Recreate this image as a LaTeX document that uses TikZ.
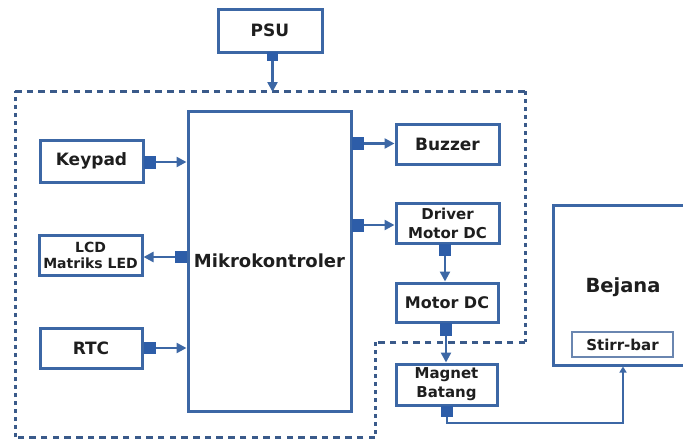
\documentclass[tikz,border=0pt]{standalone}
\usepackage{fontspec}
\setmainfont{DejaVu Sans}
\usetikzlibrary{arrows.meta,calc}
\definecolor{boxblue}{HTML}{3C67A5}
\definecolor{sqblue}{HTML}{2D5DA8}
\definecolor{dashblue}{HTML}{3A5A8A}
\definecolor{stirblue}{HTML}{6A86B0}
\definecolor{txt}{HTML}{1E1E1E}
\tikzset{
  blk/.style={draw=boxblue, line width=3pt, fill=white, text=txt, font=\bfseries, inner sep=0pt, align=center},
  sq/.style={fill=sqblue, inner sep=0pt, minimum width=12pt, minimum height=13pt},
  arr/.style={draw=boxblue, line width=2.4pt, -{Triangle[length=10pt,width=10pt]}},
  arrsmall/.style={draw=boxblue, line width=2.8pt, -{Triangle[length=6pt,width=7pt]}},
  hdash/.style={draw=dashblue, line width=3pt, dash pattern=on 6.5pt off 5.2pt},
  vdash/.style={draw=dashblue, line width=3pt, dash pattern=on 4pt off 4pt},
  fs17/.style={font=\bfseries\fontsize{17}{19}\selectfont},
  fs15/.style={font=\bfseries\fontsize{15}{19}\selectfont},
  fs14/.style={font=\bfseries\fontsize{14}{16}\selectfont},
}
\begin{document}
\begin{tikzpicture}[x=1pt,y=-1pt]
\useasboundingbox[fill=white] (0,0) rectangle (683,439);
% dashed boundary
\coordinate (d1) at (15,91);
\coordinate (d2) at (525,91);
\coordinate (d3) at (525,342);
\coordinate (d4) at (375,342);
\coordinate (d5) at (375,437);
\coordinate (d6) at (15,437);
\draw[hdash] (d1) -- (d2);
\draw[vdash] (d2) -- (d3);
\draw[hdash] (d3) -- (d4);
\draw[vdash] (d4) -- (d5);
\draw[hdash] (d5) -- (d6);
\draw[vdash] (d6) -- (d1);
% boxes
\node[blk, fs17, minimum width=104pt, minimum height=43pt] (psu) at (270,30.5) {PSU};
\node[blk, font=\bfseries\fontsize{18}{20}\selectfont, minimum width=163pt, minimum height=300pt] (mcu) at (269.5,261) {Mikrokontroler};
\node[blk, fs17, minimum width=103pt, minimum height=42pt] (keypad) at (91.5,161) {Keypad};
\node[blk, fs14, minimum width=103pt, minimum height=40pt] (lcd) at (90.5,255) {LCD\\Matriks LED};
\node[blk, fs17, minimum width=102pt, minimum height=40pt] (rtc) at (91,348) {RTC};
\node[blk, fs17, minimum width=103pt, minimum height=40pt] (buzzer) at (447.5,144) {Buzzer};
\node[blk, fs15, minimum width=103pt, minimum height=40pt] (driver) at (447.5,223) {Driver\\Motor DC};
\node[blk, font=\bfseries\fontsize{16}{18}\selectfont, minimum width=102pt, minimum height=39pt] (motor) at (447,302.5) {Motor DC};
\node[blk, fs15, minimum width=101pt, minimum height=41pt] (magnet) at (446.5,384.5) {Magnet\\Batang};
\node[blk, minimum width=142pt, minimum height=160pt] (bejana) at (624,285) {};
\node[text=txt, font=\bfseries\fontsize{19.5}{22}\selectfont] (bejanatxt) at (623,287) {Bejana};
\node[blk, draw=stirblue, line width=1.5pt, fs15, minimum width=101pt, minimum height=25pt] (stirr) at (622.5,344.5) {Stirr-bar};
% port squares
\node[sq, minimum width=11pt, minimum height=9pt] (psusq) at (272.5,56) {};
\node[sq] (keysq) at (149.5,162) {};
\node[sq, minimum height=12pt] (lcdsq) at (181,257) {};
\node[sq, minimum height=12pt] (rtcsq) at (149.5,348) {};
\node[sq] (bzsq) at (357.5,143.5) {};
\node[sq] (drsq) at (357.5,225) {};
\node[sq, minimum height=12pt] (drbsq) at (445,249.5) {};
\node[sq] (mbsq) at (446,329) {};
\node[sq, minimum height=11pt] (magsq) at (447,411) {};
% connectors
\coordinate (psuin) at (272.5,92);
\draw[arr] (psusq.south) -- (psuin);
\draw[arr] (keysq.east) -- (keysq.east -| mcu.west);
\draw[arr] (lcdsq.west) -- (lcdsq.west -| lcd.east);
\draw[arr] (rtcsq.east) -- (rtcsq.east -| mcu.west);
\draw[arr] (bzsq.east) -- (bzsq.east -| buzzer.west);
\draw[arr] (drsq.east) -- (drsq.east -| driver.west);
\draw[arr] (drbsq.south) -- (drbsq.south |- motor.north);
\draw[arr] (mbsq.south) -- (mbsq.south |- magnet.north);
\coordinate (turn) at (623,423);
\draw[arrsmall] (magsq.south) |- (turn) -- (turn |- bejana.south);
\end{tikzpicture}
\end{document}
